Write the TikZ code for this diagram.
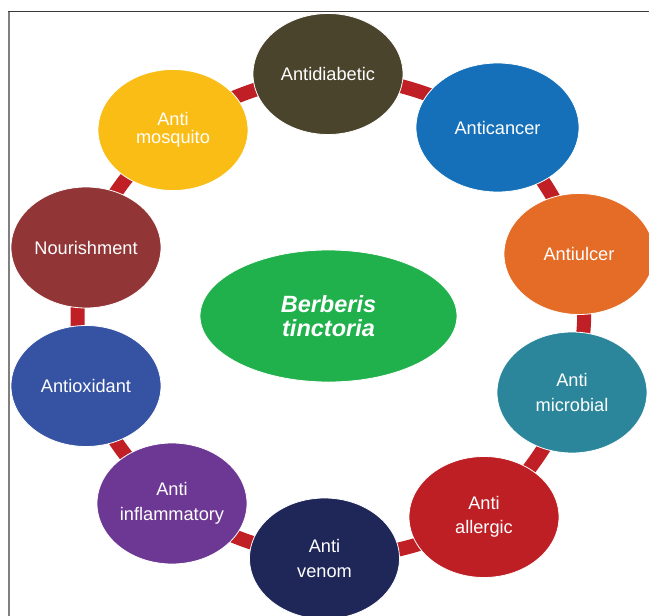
\documentclass[tikz,border=0pt]{standalone}
\usepackage{fontspec}
\setmainfont{Liberation Sans}
\usetikzlibrary{shapes.geometric,backgrounds}
\definecolor{cdiab}{HTML}{4B442D}
\definecolor{ccanc}{HTML}{1570B9}
\definecolor{culc}{HTML}{E46C26}
\definecolor{cmic}{HTML}{2B869B}
\definecolor{call}{HTML}{BE1F25}
\definecolor{cven}{HTML}{1F2759}
\definecolor{cinf}{HTML}{6C3894}
\definecolor{coxi}{HTML}{3653A3}
\definecolor{cnour}{HTML}{923536}
\definecolor{cmos}{HTML}{F9BD16}
\definecolor{cgreen}{HTML}{20B14C}
\definecolor{connred}{HTML}{C01F26}
\definecolor{framegray}{HTML}{808080}
\definecolor{framedark}{HTML}{3A3A3A}
\begin{document}
\begin{tikzpicture}[x=1pt,y=-1pt,
  bub/.style={ellipse, draw=white, line width=0.8pt, text=white, inner sep=0pt,
    minimum width=150pt, minimum height=121pt, align=center,
    font=\fontsize{18.2}{24.5}\selectfont},
  conn/.style={draw=connred, line width=14pt}]
\useasboundingbox (0,0) rectangle (649,616);
\draw[framegray, line width=2pt] (9,616) -- (9,11.5);
\draw[framedark, line width=1pt] (8,11.5) -- (649,11.5);
\node[bub, fill=cdiab] (diab) at (328,74) {Antidiabetic};
\node[bub, fill=ccanc, minimum width=163pt, minimum height=129pt] (canc) at (497.5,127.5) {Anticancer};
\node[bub, fill=culc] (ulc) at (579,254) {Antiulcer};
\node[bub, fill=cmic] (mic) at (572,392.5) {Anti\\microbial};
\node[bub, fill=call] (all) at (484,517) {Anti\\allergic};
\node[bub, fill=cven] (ven) at (324.5,558.5) {Anti\\venom};
\node[bub, fill=cinf] (inf) at (172,503.5) {Anti\\inflammatory};
\node[bub, fill=coxi] (oxi) at (86,386) {Antioxidant};
\node[bub, fill=cnour] (nour) at (86,247.5) {Nourishment};
\node[bub, fill=cmos, font=\fontsize{18.2}{18}\selectfont] (mos) at (173,130) {Anti\\mosquito};
\node[ellipse, fill=cgreen, draw=white, line width=0.8pt, inner sep=0pt,
  minimum width=257pt, minimum height=132pt, text=white, align=center,
  font=\fontsize{23.5}{23.5}\selectfont\bfseries\itshape] (bt) at (328.5,316) {Berberis\\tinctoria};
\begin{scope}[on background layer]
\foreach \a/\b in {diab/canc, canc/ulc, ulc/mic, mic/all, all/ven, ven/inf, inf/oxi, oxi/nour, nour/mos, mos/diab}
  \draw[conn] (\a.center) to[bend left=12] (\b.center);
\end{scope}
\end{tikzpicture}
\end{document}
